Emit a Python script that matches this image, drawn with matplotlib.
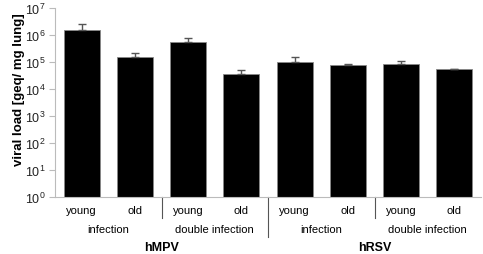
import matplotlib
matplotlib.use("Agg")
import matplotlib.pyplot as plt
import numpy as np

ages = ["young", "old", "young", "old", "young", "old", "young", "old"]
conditions = ["infection", "double infection", "infection", "double infection"]
viruses = ["hMPV", "hRSV"]
values = [1.5e6, 1.5e5, 5.6e5, 3.5e4, 9.7e4, 7.5e4, 8.2e4, 5.4e4]
errors_upper = [2.5e6, 2.1e5, 7.9e5, 4.9e4, 1.5e5, 8.2e4, 1.1e5, 5.5e4]

plt.rcParams['font.family'] = ['Liberation Sans', 'DejaVu Sans']
plt.rcParams['mathtext.fontset'] = 'custom'
plt.rcParams['mathtext.rm'] = 'Liberation Sans'
plt.rcParams['mathtext.it'] = 'Liberation Sans:italic'
plt.rcParams['mathtext.bf'] = 'Liberation Sans:bold'
fig = plt.figure(figsize=(4.83, 2.55), dpi=100)
ax = fig.add_axes([55/483, 1-198/255, 426/483, 189/255])

x = np.arange(len(values))
yerr = [np.zeros(len(values)), np.array(errors_upper) - np.array(values)]
ax.bar(x, values, width=0.68, color="black", edgecolor="#888888", linewidth=0.6,
       bottom=1)
ax.errorbar(x, values, yerr=yerr, fmt="none", ecolor="#555555", elinewidth=1,
            capsize=3, capthick=1)
ax.set_yscale("log")
ax.set_ylim(1, 1e7)
ax.set_xlim(-0.5, len(values) - 0.5)
ax.set_yticks([10**i for i in range(8)])
ax.set_yticklabels([f"$\\mathrm{{10}}^{{\\mathrm{{{i}}}}}$" for i in range(8)])
ax.yaxis.set_minor_locator(matplotlib.ticker.NullLocator())
ax.tick_params(axis="y", labelsize=9, length=4, color="#bbbbbb", width=0.8, pad=3,
               labelcolor="#222222")
ax.set_xticks(x)
ax.set_xticklabels(ages, fontsize=8)
ax.tick_params(axis="x", length=0, pad=6)
for s in ["top", "right"]:
    ax.spines[s].set_visible(False)
for s in ["left", "bottom"]:
    ax.spines[s].set_color("#bbbbbb")
    ax.spines[s].set_linewidth(0.8)

ax.set_ylabel("viral load [geq/ mg lung]", fontsize=9.5, fontweight="bold")
ax.yaxis.set_label_coords(-0.07, 0.571)

trans = ax.get_xaxis_transform()
# group labels
for i, c in enumerate(conditions):
    ax.text(2 * i + 0.5, -0.17, c, transform=trans, ha="center", va="center", fontsize=8)
for i, v in enumerate(viruses):
    ax.text(4 * i + 1.5, -0.265, v, transform=trans, ha="center", va="center",
            fontsize=9, fontweight="bold")
# separators
for xs, y0 in [(1.5, -0.11), (5.5, -0.11), (3.5, -0.21)]:
    ax.plot([xs, xs], [0, y0], transform=trans, color="#555555", lw=0.8, clip_on=False)

fig.savefig("out.png", dpi=100)
